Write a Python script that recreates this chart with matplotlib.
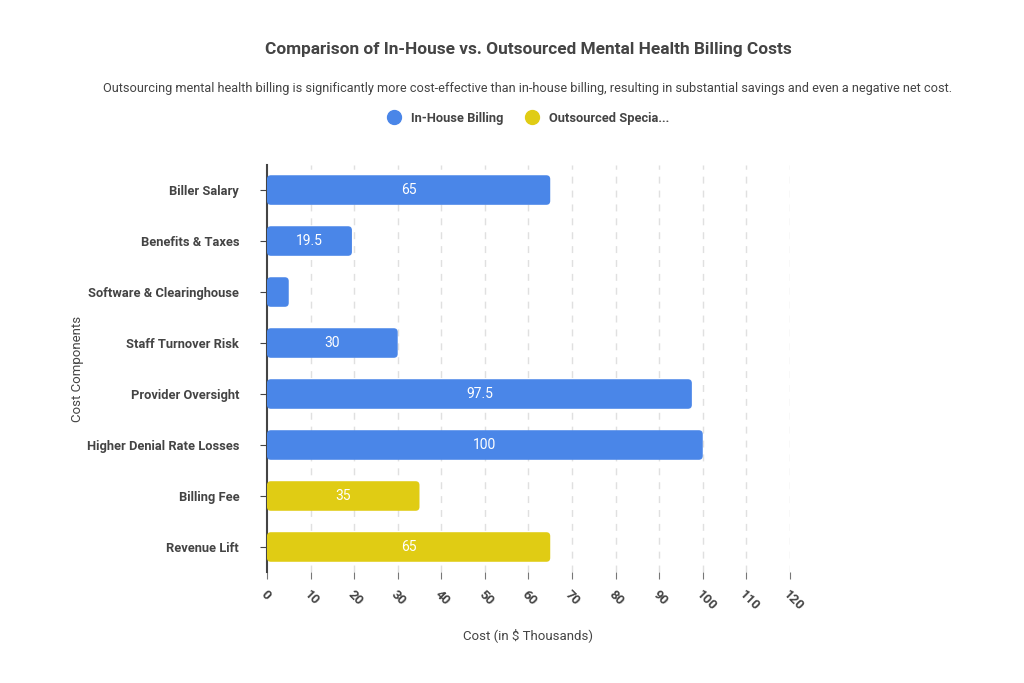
import matplotlib.pyplot as plt
from matplotlib.lines import Line2D
from matplotlib.patches import FancyBboxPatch

plt.rcParams['font.family'] = ['Roboto', 'DejaVu Sans']

categories = ["Biller Salary", "Benefits & Taxes", "Software & Clearinghouse",
              "Staff Turnover Risk", "Provider Oversight", "Higher Denial Rate Losses",
              "Billing Fee", "Revenue Lift"]
values = [65, 19.5, 5, 30, 97.5, 100, 35, 65]
series = ["In-House Billing"] * 6 + ["Outsourced Specia..."] * 2
labels = ["65", "19.5", "", "30", "97.5", "100", "35", "65"]
x_ticks = list(range(0, 130, 10))

colors = {"In-House Billing": "#4a86e8", "Outsourced Specia...": "#e0cc14"}

fig = plt.figure(figsize=(10.24, 6.83), dpi=100)
ax = fig.add_axes([0.2607, 0.1618, 0.5107, 0.5973])

ypos = list(range(len(categories)))
bar_colors = [colors[s] for s in series]
bars = ax.barh(ypos, values, height=0.58, color=bar_colors, zorder=3)

# swap plain bars for rounded ones
for b, c in zip(bars, bar_colors):
    b.set_visible(False)
    rb = FancyBboxPatch((b.get_x(), b.get_y()), b.get_width(), b.get_height(),
                        boxstyle="round,pad=0,rounding_size=0.9",
                        mutation_aspect=4.36 / 51, facecolor=c, edgecolor='none', zorder=3)
    ax.add_patch(rb)

for b, lab in zip(bars, labels):
    if lab:
        ax.text(b.get_width() / 2, b.get_y() + b.get_height() / 2, lab,
                ha='center', va='center', color='white', fontsize=10, zorder=4)

ax.set_ylim(len(categories) - 0.5, -0.5)
ax.set_xlim(0, 120)
ax.set_yticks(ypos)
ax.set_yticklabels(categories, fontsize=9.3, fontweight='bold', color='#444444')
ax.set_xticks(x_ticks)
ax.set_xticklabels([str(t) for t in x_ticks], rotation=-45, ha='left', va='top',
                   rotation_mode='anchor', fontsize=9.5, fontweight='bold', color='#444444')
ax.tick_params(axis='y', length=5, color='#444444', pad=15)
ax.tick_params(axis='x', length=5, color='#777777', pad=6)

for t in x_ticks[1:]:
    ax.axvline(t, color='#e0e0e0', linestyle=(0, (5, 5)), linewidth=1, zorder=1)

for side in ['top', 'right', 'bottom']:
    ax.spines[side].set_visible(False)
ax.spines['left'].set_color('#444444')
ax.spines['left'].set_linewidth(1.5)

ax.set_xlabel("Cost (in $ Thousands)", fontsize=9.5, color='#444444')
ax.xaxis.set_label_coords(0.5, -0.135)
ax.set_ylabel("Cost Components", fontsize=9.5, color='#444444')
ax.yaxis.set_label_coords(-0.35, 0.5)

fig.text(0.5156, 0.927, "Comparison of In-House vs. Outsourced Mental Health Billing Costs",
         ha='center', va='center', fontsize=12.4, fontweight='bold', color='#444444')
fig.text(0.5156, 0.870, "Outsourcing mental health billing is significantly more cost-effective than in-house billing, "
         "resulting in substantial savings and even a negative net cost.",
         ha='center', va='center', fontsize=9.2, color='#444444')

handles = [Line2D([0], [0], marker='o', linestyle='', markersize=10,
                  markerfacecolor=colors[k], markeredgecolor=colors[k], label=k)
           for k in colors]
leg = fig.legend(handles=handles, loc='center', bbox_to_anchor=(0.513, 0.827), ncol=2,
                 frameon=False, fontsize=9.3, handletextpad=0.3, columnspacing=1.2)
for t in leg.get_texts():
    t.set_fontweight('bold')
    t.set_color('#444444')

fig.savefig("out.png", dpi=100)
